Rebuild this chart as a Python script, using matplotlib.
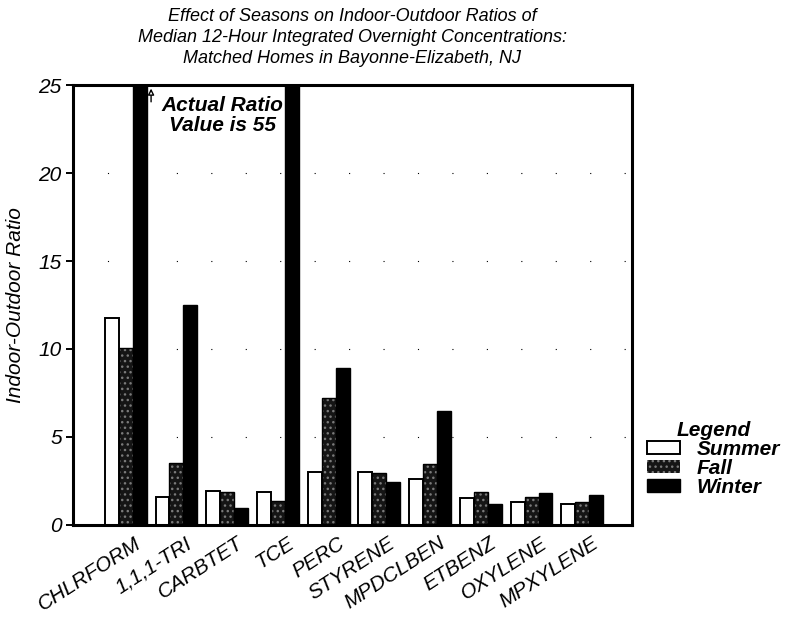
import matplotlib
matplotlib.use("Agg")
import matplotlib.pyplot as plt
import matplotlib.transforms as mtransforms
import numpy as np

# data
compounds = ["CHLRFORM", "1,1,1-TRI", "CARBTET", "TCE", "PERC",
             "STYRENE", "MPDCLBEN", "ETBENZ", "OXYLENE", "MPXYLENE"]
summer = [11.75, 1.6, 1.95, 1.86, 3.03, 3.0, 2.6, 1.55, 1.27, 1.2]
fall = [10.05, 3.54, 1.86, 1.33, 7.2, 2.92, 3.45, 1.86, 1.6, 1.29]
winter = [55.0, 12.5, 0.98, 26.0, 8.9, 2.46, 6.5, 1.2, 1.8, 1.67]
seasons = ["Summer", "Fall", "Winter"]
yticks = [0, 5, 10, 15, 20, 25]

plt.rcParams["font.family"] = ["Liberation Sans", "DejaVu Sans"]

fig = plt.figure(figsize=(7.93, 6.27), dpi=100)
ax = fig.add_axes([0.092, 0.163, 0.705, 0.701])

x = np.arange(len(compounds))
w = 0.275

b_summer = ax.bar(x - w, summer, w, color="white", edgecolor="black", linewidth=1.4)
b_fall = ax.bar(x, fall, w, color="#151515", edgecolor="#7a7a7a", hatch="...", linewidth=0)
ax.bar(x, fall, w, fill=False, edgecolor="black", linewidth=1.0)
b_winter = ax.bar(x + w, winter, w, color="black", edgecolor="black", linewidth=1.0)

ax.set_xlim(-1.04, 9.98)
ax.set_ylim(0, 25)
ax.set_yticks(yticks)
ax.set_yticklabels([str(v) for v in yticks], fontsize=15, style="italic")
ax.set_xticks(x)
ax.set_xticklabels(compounds, rotation=33, ha="right", va="center",
                   rotation_mode="anchor", fontsize=15, style="italic")
ax.tick_params(axis="x", length=0, pad=12)
ax.tick_params(axis="y", length=5, width=1.4, direction="out", pad=3)
# nudge the slanted category names right, as in the original
shift = mtransforms.ScaledTranslation(14 / 100, 0, fig.dpi_scale_trans)
for lab in ax.get_xticklabels():
    lab.set_transform(lab.get_transform() + shift)
for s in ax.spines.values():
    s.set_linewidth(2.2)

# faint dotted reference lines
for yv in yticks[1:-1]:
    ax.axhline(yv, color="black", linestyle=(0, (1, 30)), linewidth=0.8, zorder=0)

ax.set_ylabel("Indoor-Outdoor Ratio", fontsize=15, style="italic", labelpad=10)

ax.annotate("", xy=(0.5, 24.97), xytext=(0.5, 23.9),
            arrowprops=dict(arrowstyle="-|>", color="black", lw=1, fc="white",
                            mutation_scale=9))
ax.text(1.9, 23.3, "Actual Ratio\nValue is 55", ha="center", va="center",
        fontsize=15, style="italic", fontweight="bold", linespacing=1.05)

fig.text(0.444, 0.94,
         "Effect of Seasons on Indoor-Outdoor Ratios of\n"
         "Median 12-Hour Integrated Overnight Concentrations:\n"
         "Matched Homes in Bayonne-Elizabeth, NJ",
         ha="center", va="center", fontsize=13, style="italic", linespacing=1.3)

leg = ax.legend([b_summer, b_fall, b_winter], seasons, loc="upper left",
                bbox_to_anchor=(1.0, 0.27), frameon=False, title="Legend",
                handlelength=1.6, handleheight=0.55, handletextpad=0.8,
                labelspacing=0.0, borderaxespad=0.3,
                prop=dict(size=15, style="italic", weight="bold"))
leg.get_title().set_fontsize(15)
leg.get_title().set_style("italic")
leg.get_title().set_fontweight("bold")

fig.savefig("out.png", dpi=100)
